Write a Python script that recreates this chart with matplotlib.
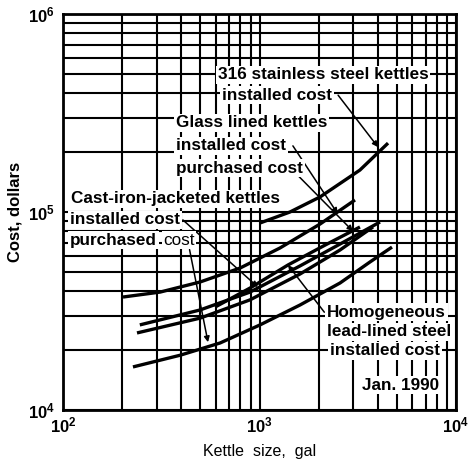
import numpy as np
import matplotlib
matplotlib.use("Agg")
import matplotlib.pyplot as plt
from matplotlib.ticker import LogLocator, NullFormatter

plt.rcParams['font.family'] = ['Liberation Sans', 'DejaVu Sans']
plt.rcParams['mathtext.fontset'] = 'custom'
plt.rcParams['mathtext.rm'] = 'Liberation Sans'
plt.rcParams['mathtext.bf'] = 'Liberation Sans:bold'

# ---- data (kettle size, gal ; cost, dollars) ----
ss_size = [1006, 1429, 2032, 3245, 4510]
ss_cost = [88000, 100000, 119100, 162900, 222800]

glass_inst_size = [202, 312, 498, 796, 1271, 2032, 3062]
glass_inst_cost = [37200, 39400, 44300, 52100, 65800, 86900, 115000]

glass_purch_size = [246, 498, 895, 1607, 2570, 4105]
glass_purch_cost = [26900, 32000, 39400, 53400, 68900, 89000]

ci_inst_size = [238, 498, 895, 1607, 2570, 3780]
ci_inst_cost = [24500, 29100, 36000, 48600, 64300, 84000]

lead_size = [594, 895, 1396, 2153, 3245]
lead_cost = [33100, 41300, 54000, 68000, 84000]

ci_purch_size = [227, 394, 630, 1006, 1607, 2570, 3648, 4724]
ci_purch_cost = [16500, 18900, 21800, 26900, 33900, 43800, 55900, 66500]

x_label = "Kettle  size,  gal"
y_label = "Cost, dollars"

fig = plt.figure(figsize=(4.68, 4.68), dpi=100)
ax = fig.add_axes([63/468, 1-410/468, 393/468, 396/468])
ax.set_xscale('log')
ax.set_yscale('log')
ax.set_xlim(1e2, 1e4)
ax.set_ylim(1e4, 1e6)

# grid
ax.xaxis.set_major_locator(LogLocator(base=10, numticks=10))
ax.yaxis.set_major_locator(LogLocator(base=10, numticks=10))
ax.xaxis.set_minor_locator(LogLocator(base=10, subs=np.arange(2, 10), numticks=20))
ax.yaxis.set_minor_locator(LogLocator(base=10, subs=np.arange(2, 10), numticks=20))
ax.xaxis.set_minor_formatter(NullFormatter())
ax.yaxis.set_minor_formatter(NullFormatter())
ax.grid(True, which='both', color='black', linewidth=1.5, zorder=1)
ax.set_axisbelow(True)
ax.tick_params(axis='y', which='both', length=0, labelsize=12, pad=6)
ax.tick_params(axis='x', which='both', length=0, labelsize=12, pad=4)
for lab in ax.get_yticklabels() + ax.get_xticklabels():
    lab.set_fontweight('bold')
for s in ax.spines.values():
    s.set_linewidth(2)
    s.set_zorder(6)

curves = [(ss_size, ss_cost), (glass_inst_size, glass_inst_cost),
          (glass_purch_size, glass_purch_cost), (ci_inst_size, ci_inst_cost),
          (lead_size, lead_cost), (ci_purch_size, ci_purch_cost)]
for xs, ys in curves:
    ax.plot(xs, ys, color='black', linewidth=2.4, solid_capstyle='butt', zorder=3)

box = dict(boxstyle='square,pad=0.1', facecolor='white', edgecolor='none')
tk = dict(transform=ax.transAxes, fontsize=12.3, ha='left', va='center',
          bbox=box, zorder=5)

ax.text(0.394, 0.846, "316 stainless steel kettles", fontweight='bold', **tk)
ax.text(0.405, 0.795, "installed cost", fontweight='bold', **tk)
ax.text(0.288, 0.725, "Glass lined kettles", fontweight='bold', **tk)
ax.text(0.288, 0.667, "installed cost", fontweight='bold', **tk)
ax.text(0.288, 0.611, "purchased cost", fontweight='bold', **tk)
ax.text(0.020, 0.533, "Cast-iron-jacketed kettles", fontweight='bold', **tk)
ax.text(0.018, 0.480, "installed cost", fontweight='bold', **tk)
ax.text(0.018, 0.429, "purchased", fontweight='bold', **tk)
ax.text(0.255, 0.429, "cost", fontweight='normal', **tk)
ax.text(0.672, 0.247, "Homogeneous", fontweight='bold', **tk)
ax.text(0.672, 0.197, "lead-lined steel", fontweight='bold', **tk)
ax.text(0.679, 0.149, "installed cost", fontweight='bold', **tk)
ax.text(0.761, 0.063, "Jan. 1990", fontweight='bold', **tk)

ap = dict(arrowstyle='-|>', color='black', lw=1.1, mutation_scale=8,
          shrinkA=0, shrinkB=0)
def arrow(start, target):
    ax.annotate("", xy=target, xycoords='data', xytext=start,
                textcoords='axes fraction', arrowprops=ap, zorder=4)

arrow((0.700, 0.795), (4010, 212800))
arrow((0.585, 0.667), (2500, 98000))
arrow((0.600, 0.590), (2990, 80000))
arrow((0.305, 0.480), (981, 41800))
arrow((0.322, 0.405), (547, 22000))
arrow((0.665, 0.247), (1396, 54000))

ax.set_xlabel(x_label, fontsize=11.5, labelpad=6)
ax.set_ylabel(y_label, fontsize=12, fontweight='bold', labelpad=4)

fig.savefig("out.png", dpi=100)
